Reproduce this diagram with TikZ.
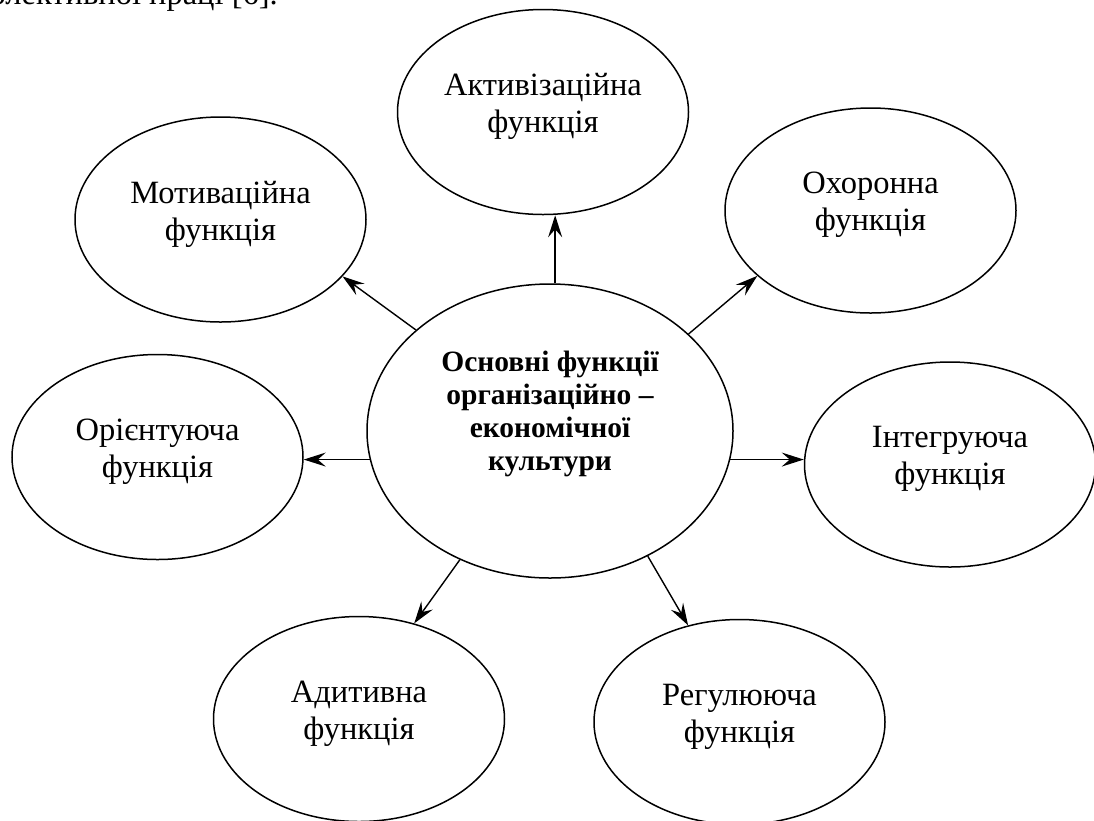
\documentclass[tikz,border=0pt]{standalone}
\usepackage{fontspec}
\setmainfont{Liberation Serif}
\usetikzlibrary{arrows.meta,shapes.geometric}
\begin{document}
\begin{tikzpicture}[x=1pt,y=-1pt,
  fn/.style={ellipse,draw,line width=1.5pt,minimum width=291pt,minimum height=205pt,
    inner sep=0pt,align=center,font=\fontsize{32.5}{37}\selectfont,text depth=18pt},
  hub/.style={ellipse,draw,line width=1.5pt,minimum width=366pt,minimum height=294pt,
    inner sep=0pt,align=center,font=\bfseries\fontsize{29.5}{33}\selectfont,text depth=40pt},
  arr/.style={-{Stealth[length=22pt,width=14pt,inset=8pt]},line width=1.4pt}]
\useasboundingbox (0,0) rectangle (1094,820);
\clip (0,0) rectangle (1094,820);
\node[anchor=base east,inner sep=0pt,font=\fontsize{32.5}{37}\selectfont] (prev) at (278,4) {колективної праці [6].};
\node[hub] (c) at (550,431) {Основні функції\\організаційно –\\економічної\\культури};
\node[fn] (mot) at (220.5,219.5) {Мотиваційна\\функція};
\node[fn] (act) at (543,112) {Активізаційна\\функція};
\node[fn] (ohr) at (870.5,210.5) {Охоронна\\функція};
\node[fn] (int) at (950,464.5) {Інтегруюча\\функція};
\node[fn] (ori) at (157.5,457) {Орієнтуюча\\функція};
\node[fn] (adi) at (359,719) {Адитивна\\функція};
\node[fn] (reg) at (739.5,722) {Регулююча\\функція};
\draw[arr] (c.143.6) -- (mot.-25);
\draw[arr] (c.88.4) -- (c.88.4 |- act.south);
\draw[arr] (c.35.4) -- (ohr.-150.7);
\draw[arr] (c.-9.8) -- (int.west |- c.-9.8);
\draw[arr] (c.189.6) -- (ori.east |- c.189.6);
\draw[arr] (c.235.1) -- (adi.60.5);
\draw[arr] (c.-52.6) -- (reg.118.7);
\end{tikzpicture}
\end{document}
